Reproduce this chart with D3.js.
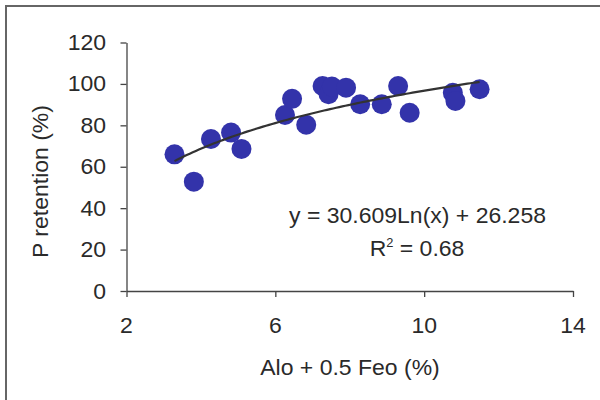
<!DOCTYPE html>
<html>
<head>
<meta charset="utf-8">
<script src="https://cdn.jsdelivr.net/npm/d3@7"></script>
<style>
  html, body { margin: 0; padding: 0; background: #fff; }
  svg { display: block; }
  text { font-family: "Liberation Sans", Arial, sans-serif; fill: #2a2a2a; }
</style>
</head>
<body>
<svg id="chart" width="600" height="400"></svg>
<script>
// Data
const xValues = [3.29, 3.81, 4.27, 4.81, 5.09, 6.26, 6.45, 6.83, 7.27, 7.43, 7.52, 7.90, 8.28, 8.86, 9.30, 9.61, 10.77, 10.84, 11.49];
const yValues = [66.0, 52.8, 73.4, 76.5, 68.6, 85.0, 92.8, 80.3, 99.0, 95.0, 98.7, 98.2, 90.2, 90.2, 99.0, 86.1, 95.7, 91.8, 97.4];
const xTicks = [2, 6, 10, 14];
const yTicks = [0, 20, 40, 60, 80, 100, 120];
const fitA = 30.609, fitB = 26.258;
const eqLabel = "y = 30.609Ln(x) + 26.258";
const r2Value = "0.68";
const xTitle = "Alo + 0.5 Feo (%)";
const yTitle = "P retention (%)";

const svg = d3.select("#chart");
const FS = 21.5, SX = 1.07;

// frame
svg.append("rect").attr("x", 6).attr("y", 6).attr("width", 620).attr("height", 420)
  .attr("fill", "none").attr("stroke", "#666").attr("stroke-width", 2);

const x = d3.scaleLinear().domain([2, 14]).range([126.5, 573]);
const y = d3.scaleLinear().domain([0, 120]).range([291, 42.5]);

// axes
const gx = svg.append("g").attr("transform", `translate(0,${y(0)})`)
  .call(d3.axisBottom(x).tickValues(xTicks).tickSize(6).tickSizeOuter(0).tickFormat(""));
const gy = svg.append("g").attr("transform", `translate(${x(2)},0)`)
  .call(d3.axisLeft(y).tickValues(yTicks).tickSize(6).tickSizeOuter(0).tickFormat(""));
[gx, gy].forEach(g => {
  g.select(".domain").attr("stroke", "#444").attr("stroke-width", 1.3);
  g.selectAll(".tick line").attr("stroke", "#444").attr("stroke-width", 1.3);
});

function label(txt, tx, ty, anchor, rot) {
  return svg.append("text")
    .attr("transform", `translate(${tx},${ty})` + (rot ? ` rotate(${rot})` : "") + ` scale(${SX},1)`)
    .attr("text-anchor", anchor)
    .attr("font-size", FS)
    .text(txt);
}

// tick labels
yTicks.forEach(v => label(String(v), 106, y(v) + 7.5, "end"));
xTicks.forEach(v => label(String(v), x(v), 333, "middle"));

// titles
label(xTitle, 350, 375, "middle");
label(yTitle, 48, 181.5, "middle", -90);

// points
svg.append("g").selectAll("circle").data(xValues).join("circle")
  .attr("cx", d => x(d)).attr("cy", (d, i) => y(yValues[i]))
  .attr("r", 10).attr("fill", "#3333AA");

// trend line
const xs = d3.range(0, 101).map(i => d3.min(xValues) + (d3.max(xValues) - d3.min(xValues)) * i / 100);
svg.append("path")
  .attr("d", d3.line().x(d => x(d)).y(d => y(fitA * Math.log(d) + fitB))(xs))
  .attr("fill", "none").attr("stroke", "#333").attr("stroke-width", 2.2);

// equation
label(eqLabel, 417.5, 223.3, "middle");
const r2 = svg.append("text")
  .attr("transform", `translate(417,256) scale(${SX},1)`)
  .attr("text-anchor", "middle").attr("font-size", FS);
r2.append("tspan").text("R");
r2.append("tspan").attr("font-size", 12).attr("dy", -9).text("2");
r2.append("tspan").attr("dy", 9).text(" = " + r2Value);
</script>
</body>
</html>
